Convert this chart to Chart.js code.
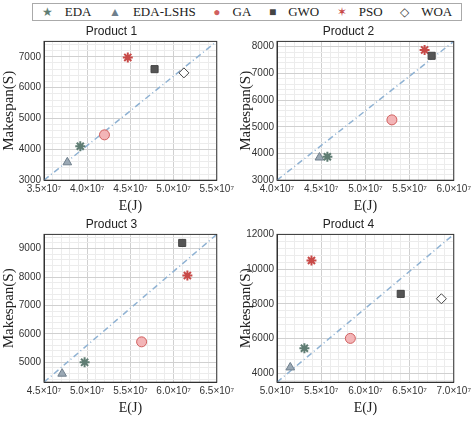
<!DOCTYPE html>
<html><head><meta charset="utf-8">
<script src="https://cdn.jsdelivr.net/npm/chart.js@4"></script>
<style>
body{margin:0;background:#fff;width:474px;height:429px;position:relative;overflow:hidden}
.box{position:absolute}
#legendBox{left:32px;top:3px;width:430px;height:18px;border:1px solid #aaa;box-sizing:border-box;
  display:flex;justify-content:space-around;align-items:center;font-family:'Liberation Serif';font-size:13px;color:#222}
#legendBox span b{font-weight:normal;margin-right:12px;font-size:12px}
</style></head><body>
<div class="box" id="legendBox"></div>
<div class="box" style="left:0;top:22px;width:237px;height:193px"><canvas id="c1"></canvas></div>
<div class="box" style="left:237px;top:22px;width:237px;height:193px"><canvas id="c2"></canvas></div>
<div class="box" style="left:0;top:215px;width:237px;height:214px"><canvas id="c3"></canvas></div>
<div class="box" style="left:237px;top:215px;width:237px;height:214px"><canvas id="c4"></canvas></div>
<script>
// algorithms and their marker looks
var algos = ['EDA', 'EDA-LSHS', 'GA', 'GWO', 'PSO', 'WOA'];
var shapes = ['star', 'triangle', 'circle', 'rect', 'star', 'rectRot'];
var glyphs = ['\u2605', '\u25B2', '\u25CF', '\u25A0', '\u2736', '\u25C7'];
var fills = ['#7d9a90', '#9aa8b4', '#f3b5b7', '#555555', '#e07a78', '#ffffff'];
var borders = ['#5f7d73', '#6f7f8c', '#d0605f', '#444444', '#c84a48', '#444444'];

// energy E(J) per algorithm (null = not shown)
var energy1 = [3.92e7, 3.77e7, 4.20e7, 4.78e7, 4.47e7, 5.12e7];
var span1   = [4100, 3580, 4470, 6600, 6980, 6480];
var energy2 = [4.57e7, 4.48e7, 5.30e7, 5.75e7, 5.67e7, null];
var span2   = [3880, 3850, 5260, 7660, 7880, null];
var energy3 = [4.97e7, 4.71e7, 5.63e7, 6.10e7, 6.16e7, null];
var span3   = [5000, 4600, 5720, 9200, 8050, null];
var energy4 = [5.31e7, 5.15e7, 5.83e7, 6.40e7, 5.39e7, 6.86e7];
var span4   = [5450, 4350, 6020, 8580, 10500, 8300];

var panels = [
  {id: 'c1', title: 'Product 1', e: energy1, s: span1, x: [3.5e7, 5.5e7], y: [3000, 7500], ystep: 1000, left: 44, bottomPad: 0},
  {id: 'c2', title: 'Product 2', e: energy2, s: span2, x: [4.0e7, 6.0e7], y: [3000, 8200], ystep: 1000, left: 40, bottomPad: 0},
  {id: 'c3', title: 'Product 3', e: energy3, s: span3, x: [4.5e7, 6.5e7], y: [4300, 9500], ystep: 1000, left: 44, bottomPad: 12},
  {id: 'c4', title: 'Product 4', e: energy4, s: span4, x: [5.0e7, 7.0e7], y: [3500, 12000], ystep: 2000, left: 40, bottomPad: 12}
];

// html legend
var lb = document.getElementById('legendBox');
algos.forEach(function (a, i) {
  var s = document.createElement('span');
  var g = document.createElement('b');
  g.textContent = glyphs[i];
  g.style.color = i === 5 ? '#444' : borders[i];
  s.appendChild(g);
  s.appendChild(document.createTextNode(a));
  lb.appendChild(s);
});

function sci(v) {
  return (v / 1e7).toFixed(1) + '\u00d710\u2077';
}

var frame = {
  id: 'frame',
  afterDraw: function (c) {
    var a = c.chartArea, x = c.ctx;
    x.save(); x.strokeStyle = '#333'; x.lineWidth = 1;
    x.strokeRect(a.left, a.top, a.right - a.left, a.bottom - a.top);
    x.restore();
  }
};

panels.forEach(function (p) {
  var ds = [{
    type: 'line',
    data: [{x: p.x[0], y: p.y[0]}, {x: p.x[1], y: p.y[1]}],
    borderColor: '#8fb2d3', borderWidth: 1.5, borderDash: [6, 3, 1, 3],
    pointRadius: 0, order: 10
  }];
  algos.forEach(function (a, i) {
    if (p.e[i] === null) return;
    ds.push({
      label: a,
      data: [{x: p.e[i], y: p.s[i]}],
      pointStyle: shapes[i],
      pointRadius: 5,
      backgroundColor: fills[i],
      borderColor: borders[i],
      borderWidth: shapes[i] === 'star' ? 2 : 1
    });
  });
  var ystepMinor = p.ystep / 5;
  new Chart(document.getElementById(p.id), {
    type: 'scatter',
    data: {datasets: ds},
    plugins: [frame],
    options: {
      responsive: true, maintainAspectRatio: false, animation: false,
      layout: {padding: {right: 14, top: 0, bottom: p.bottomPad}},
      plugins: {
        legend: {display: false}, tooltip: {enabled: false},
        title: {display: true, text: p.title, color: '#222', padding: {top: 2, bottom: 3},
          font: {family: 'Liberation Sans', size: 12, weight: 'normal'}}
      },
      scales: {
        x: {
          type: 'linear', min: p.x[0], max: p.x[1],
          ticks: {stepSize: 0.1e7, autoSkip: false, maxRotation: 0, color: '#333',
            font: {family: 'Liberation Sans', size: 10},
            callback: function (v) {
              return Math.abs(Math.round(v / 1e6) % 5) === 0 ? sci(v) : '';
            }},
          grid: {color: function (c) {
            return Math.round(c.tick.value / 1e6) % 5 === 0 ? '#d0d0d0' : '#ececec';
          }, drawTicks: false},
          border: {color: '#333'},
          title: {display: true, text: 'E(J)', color: '#222', padding: 0,
            font: {family: 'Liberation Serif', size: 14}}
        },
        y: {
          type: 'linear', min: p.y[0], max: p.y[1],
          afterFit: function (s) { s.width = p.left; },
          afterBuildTicks: function (s) {
            var t = [];
            var start = Math.ceil(p.y[0] / ystepMinor) * ystepMinor;
            for (var v = start; v <= p.y[1]; v += ystepMinor) t.push({value: v});
            s.ticks = t;
          },
          ticks: {autoSkip: false, color: '#333', font: {family: 'Liberation Sans', size: 10},
            callback: function (v) { return v % p.ystep === 0 ? v : ''; }},
          grid: {color: function (c) {
            return c.tick.value % p.ystep === 0 ? '#d0d0d0' : '#ececec';
          }, drawTicks: false},
          border: {color: '#333'},
          title: {display: true, text: 'Makespan(S)', color: '#222', padding: 0,
            font: {family: 'Liberation Serif', size: 15}}
        }
      }
    }
  });
});
</script>
</body></html>
